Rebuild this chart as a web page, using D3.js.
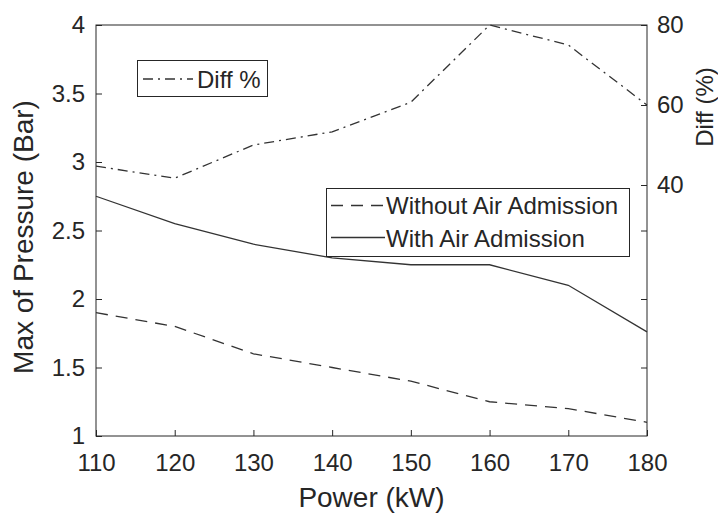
<!DOCTYPE html>
<html>
<head>
<meta charset="utf-8">
<script src="https://cdn.jsdelivr.net/npm/d3@7"></script>
<style>
  body { margin: 0; background: #fff; }
  text { font-family: "Liberation Sans", Arial, sans-serif; fill: #262626; }
</style>
</head>
<body>
<div id="chart"></div>
<script>
// data
var power = [110, 120, 130, 140, 150, 160, 170, 180];
var withoutAir = [1.9, 1.8, 1.6, 1.5, 1.4, 1.25, 1.2, 1.1];
var withAir = [2.75, 2.55, 2.4, 2.3, 2.25, 2.25, 2.1, 1.76];
var diffPct = [44.7, 41.7, 50, 53.3, 60.7, 80, 75, 60];
var xTicks = [110, 120, 130, 140, 150, 160, 170, 180];
var yLeftTicks = [1, 1.5, 2, 2.5, 3, 3.5, 4];
var yRightTicks = [40, 60, 80];
var yRightExtra = [1.5, 2, 2.5];

var W = 718, H = 516;
var margin = {top: 25, right: 71, bottom: 80, left: 96},
    width = W - margin.left - margin.right,
    height = H - margin.top - margin.bottom;

var ink = "#262626", lineCol = "#333";

var svg = d3.select("#chart")
  .append("svg")
    .attr("width", W)
    .attr("height", H);

var g = svg.append("g")
    .attr("transform", "translate(" + margin.left + "," + margin.top + ")");

var x = d3.scaleLinear().domain([110, 180]).range([0, width]);
var yL = d3.scaleLinear().domain([1, 4]).range([height, 0]);
var yR = d3.scaleLinear().domain([-22.75, 80]).range([height, 0]);

// box
g.append("rect")
  .attr("width", width).attr("height", height)
  .attr("fill", "none").attr("stroke", ink).attr("stroke-width", 1);

function styleAxis(sel) {
  sel.select(".domain").remove();
  sel.selectAll(".tick line").attr("stroke", ink);
  sel.selectAll("text").style("font-size", "24px").attr("fill", ink);
}

g.append("g")
  .attr("transform", "translate(0," + height + ")")
  .call(d3.axisBottom(x).tickValues(xTicks).tickSize(-6).tickPadding(18))
  .call(styleAxis);

g.append("g")
  .call(d3.axisLeft(yL).tickValues(yLeftTicks).tickFormat(d3.format("")).tickSize(-6).tickPadding(11))
  .call(styleAxis);

g.append("g")
  .attr("transform", "translate(" + width + ",0)")
  .call(d3.axisRight(yR).tickValues(yRightTicks).tickSize(-6).tickPadding(10))
  .call(styleAxis);

g.append("g")
  .attr("transform", "translate(" + width + ",0)")
  .call(d3.axisRight(yL).tickValues(yRightExtra).tickFormat("").tickSize(-6))
  .call(styleAxis);

// lines
var lineL = d3.line().x(function(d, i) { return x(power[i]); }).y(function(d) { return yL(d); });
var lineR = d3.line().x(function(d, i) { return x(power[i]); }).y(function(d) { return yR(d); });

g.append("path").datum(withoutAir)
  .attr("d", lineL).attr("fill", "none").attr("stroke", lineCol)
  .attr("stroke-width", 1.3).attr("stroke-dasharray", "12,8");

g.append("path").datum(withAir)
  .attr("d", lineL).attr("fill", "none").attr("stroke", lineCol)
  .attr("stroke-width", 1.3);

g.append("path").datum(diffPct)
  .attr("d", lineR).attr("fill", "none").attr("stroke", lineCol)
  .attr("stroke-width", 1.3).attr("stroke-dasharray", "10,5,2,5");

// axis titles
svg.append("text")
  .attr("x", margin.left + width / 2).attr("y", 507)
  .attr("text-anchor", "middle").style("font-size", "28px")
  .text("Power (kW)");

svg.append("text")
  .attr("transform", "translate(33," + 237 + ") rotate(-90)")
  .attr("text-anchor", "middle").style("font-size", "28px")
  .text("Max of Pressure (Bar)");

svg.append("text")
  .attr("transform", "translate(713," + 107 + ") rotate(-90)")
  .attr("text-anchor", "middle").style("font-size", "24px")
  .text("Diff (%)");

// legend 1
var leg1 = svg.append("g");
leg1.append("rect").attr("x", 137.5).attr("y", 60.5).attr("width", 130).attr("height", 36)
  .attr("fill", "#fff").attr("stroke", ink);
leg1.append("line").attr("x1", 143).attr("x2", 193).attr("y1", 79).attr("y2", 79)
  .attr("stroke", lineCol).attr("stroke-width", 1.3).attr("stroke-dasharray", "10,5,2,5");
leg1.append("text").attr("x", 197).attr("y", 88).style("font-size", "24px").text("Diff %");

// legend 2
var leg2 = svg.append("g");
leg2.append("rect").attr("x", 326.5).attr("y", 188.5).attr("width", 303).attr("height", 68)
  .attr("fill", "#fff").attr("stroke", ink);
leg2.append("line").attr("x1", 331).attr("x2", 385).attr("y1", 205.5).attr("y2", 205.5)
  .attr("stroke", lineCol).attr("stroke-width", 1.3).attr("stroke-dasharray", "12,8");
leg2.append("text").attr("x", 386).attr("y", 214).style("font-size", "24px").text("Without Air Admission");
leg2.append("line").attr("x1", 331).attr("x2", 385).attr("y1", 237.5).attr("y2", 237.5)
  .attr("stroke", lineCol).attr("stroke-width", 1.3);
leg2.append("text").attr("x", 386).attr("y", 247).style("font-size", "24px").text("With Air Admission");
</script>
</body>
</html>
